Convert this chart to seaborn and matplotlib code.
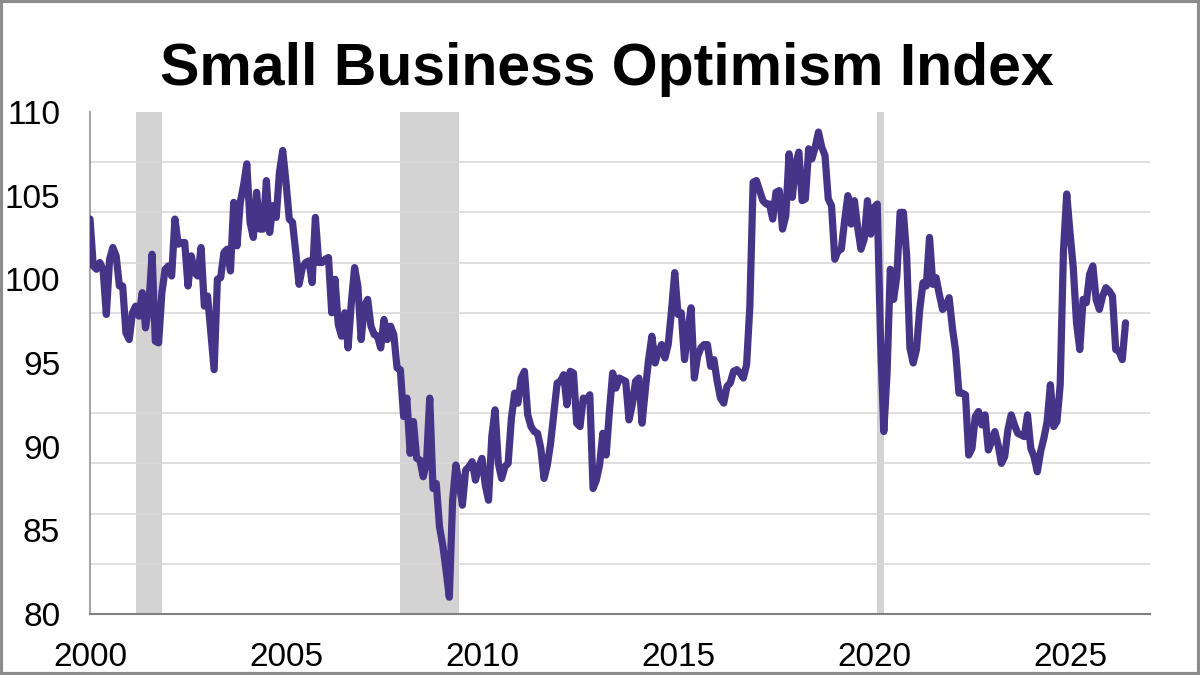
"""
Small Business Optimism Index - monthly line chart with recession shading
"""
import numpy as np
import pandas as pd
import matplotlib
matplotlib.use("Agg")
import matplotlib.pyplot as plt
from matplotlib.patches import Rectangle
import seaborn as sns

# --- data: monthly index values, Jan 2000 onwards ---
v2000 = [103.6, 100.8, 100.6, 101.0, 100.6, 97.9, 101.2, 101.9, 101.4, 99.6, 99.6, 96.8]
v2001 = [96.4, 98.0, 98.4, 97.8, 99.2, 97.1, 98.4, 101.5, 96.3, 96.2, 99.2, 100.6]
v2002 = [100.8, 100.2, 103.6, 102.1, 102.2, 102.2, 99.6, 101.4, 100.4, 100.2, 101.9, 98.4]
v2003 = [99.0, 96.8, 94.6, 100.0, 100.1, 101.6, 101.8, 100.5, 104.6, 102.0, 104.6, 105.6]
v2004 = [106.9, 103.4, 102.5, 105.2, 103.0, 103.0, 105.9, 102.8, 104.4, 103.7, 106.4, 107.7]
v2005 = [105.8, 103.6, 103.4, 101.6, 99.7, 100.7, 101.0, 101.1, 99.8, 103.7, 101.0, 101.0]
v2006 = [101.2, 101.3, 98.0, 100.0, 97.3, 96.6, 98.0, 95.9, 98.6, 100.7, 99.6, 96.4]
v2007 = [98.4, 98.8, 97.2, 96.7, 96.6, 95.9, 97.6, 96.4, 97.2, 96.7, 94.7, 94.6]
v2008 = [91.8, 92.9, 89.6, 91.5, 89.3, 89.2, 88.2, 89.0, 92.9, 87.5, 87.8, 85.2]
v2009 = [84.1, 82.6, 81.0, 86.8, 88.9, 87.9, 86.5, 88.6, 88.8, 89.1, 88.0, 88.8]
v2010 = [89.3, 87.7, 86.8, 90.6, 92.2, 89.0, 88.1, 88.8, 89.0, 91.7, 93.2, 92.6]
v2011 = [94.1, 94.5, 91.9, 91.2, 90.9, 90.8, 89.9, 88.1, 88.9, 90.2, 92.0, 93.8]
v2012 = [93.9, 94.3, 92.5, 94.5, 94.4, 91.4, 91.2, 92.9, 92.8, 93.1, 87.5, 88.0]
v2013 = [88.9, 90.8, 89.5, 92.1, 94.4, 93.5, 94.1, 94.0, 93.9, 91.6, 92.5, 93.9]
v2014 = [94.1, 91.4, 93.4, 95.2, 96.6, 95.0, 95.7, 96.1, 95.3, 96.1, 98.1, 100.4]
v2015 = [97.9, 98.0, 95.2, 96.9, 98.3, 94.1, 95.4, 95.9, 96.1, 96.1, 94.8, 95.2]
v2016 = [93.9, 92.9, 92.6, 93.6, 93.8, 94.5, 94.6, 94.4, 94.1, 94.9, 98.4, 105.8]
v2017 = [105.9, 105.3, 104.7, 104.5, 104.5, 103.6, 105.2, 105.3, 103.0, 103.8, 107.5, 104.9]
v2018 = [106.9, 107.6, 104.7, 104.8, 107.8, 107.2, 107.9, 108.8, 107.9, 107.4, 104.8, 104.4]
v2019 = [101.2, 101.7, 101.8, 103.5, 105.0, 103.3, 104.7, 103.1, 101.8, 102.4, 104.7, 102.7]
v2020 = [104.3, 104.5, 96.4, 90.9, 94.4, 100.6, 98.8, 100.2, 104.0, 104.0, 101.4, 95.9]
v2021 = [95.0, 95.8, 98.2, 99.8, 99.6, 102.5, 99.7, 100.1, 99.1, 98.2, 98.4, 98.9]
v2022 = [97.1, 95.7, 93.2, 93.2, 93.1, 89.5, 89.9, 91.8, 92.1, 91.3, 91.9, 89.8]
v2023 = [90.3, 90.9, 90.1, 89.0, 89.4, 91.0, 91.9, 91.3, 90.8, 90.7, 90.6, 91.9]
v2024 = [89.9, 89.4, 88.5, 89.7, 90.5, 91.5, 93.7, 91.2, 91.5, 93.7, 101.7, 105.1]
v2025 = [102.8, 100.7, 97.4, 95.8, 98.8, 98.6, 100.3, 100.8, 98.8, 98.2, 99.0, 99.5]
v2026 = [99.3, 99.0, 95.8, 95.7, 95.2, 97.4]

# recession periods (decimal years)
rec_start = [2001.17, 2007.92, 2020.08]
rec_end = [2001.83, 2009.42, 2020.25]

x_ticks = [2000, 2005, 2010, 2015, 2020, 2025]
y_labels = [80, 85, 90, 95, 100, 105, 110]
y_grid = [80, 83, 86, 89, 92, 95, 98, 101, 104, 107, 110]

values = (v2000 + v2001 + v2002 + v2003 + v2004 + v2005 + v2006 + v2007 + v2008
          + v2009 + v2010 + v2011 + v2012 + v2013 + v2014 + v2015 + v2016 + v2017
          + v2018 + v2019 + v2020 + v2021 + v2022 + v2023 + v2024 + v2025 + v2026)
df = pd.DataFrame({'year': 2000 + np.arange(len(values)) / 12.0, 'index': values})

# --- style ---
sns.set_style("white")
plt.rcParams['font.family'] = ['Liberation Sans', 'DejaVu Sans']

fig = plt.figure(figsize=(12, 6.75), dpi=100)
ax = fig.add_axes([0.075, 0.0904, 0.8833, 0.7437])

for s, e in zip(rec_start, rec_end):
    ax.axvspan(s, e, color='#d3d3d3', lw=0, zorder=0)

sns.lineplot(data=df, x='year', y='index', color='#453589', linewidth=5.2,
             ax=ax, zorder=3)
ax.lines[-1].set_solid_joinstyle('round')
ax.lines[-1].set_solid_capstyle('round')

ax.set_xlim(2000, 2027.04)
ax.set_ylim(80, 110)
ax.set_xticks(x_ticks)
ax.set_xticklabels([str(t) for t in x_ticks])
ax.set_yticks(y_labels)
ax.set_yticklabels([str(t) for t in y_labels])
ax.set_yticks(y_grid, minor=True)
ax.grid(False)
ax.grid(axis='y', which='minor', color='#d9d9d9', lw=1.2, zorder=1)
ax.set_axisbelow(True)
ax.tick_params(axis='both', which='both', length=0, labelsize=24, colors='black')
ax.tick_params(axis='y', pad=21.5)
ax.tick_params(axis='x', pad=20)
ax.set_xlabel('')
ax.set_ylabel('')

for side in ['top', 'right']:
    ax.spines[side].set_visible(False)
ax.spines['left'].set_color('#a6a6a6')
ax.spines['left'].set_linewidth(1.5)
ax.spines['bottom'].set_color('#7f7f7f')
ax.spines['bottom'].set_linewidth(1.5)

fig.text(0.506, 1 - 85 / 675, 'Small Business Optimism Index', ha='center', va='baseline',
         fontsize=42.5, fontweight='bold', color='black')

# outer frame
fig.patches.append(Rectangle((0.0012, 0.002), 0.9976, 0.996, transform=fig.transFigure,
                             fill=False, edgecolor='#8c8c8c', linewidth=3))

plt.savefig('out.png', dpi=100)
